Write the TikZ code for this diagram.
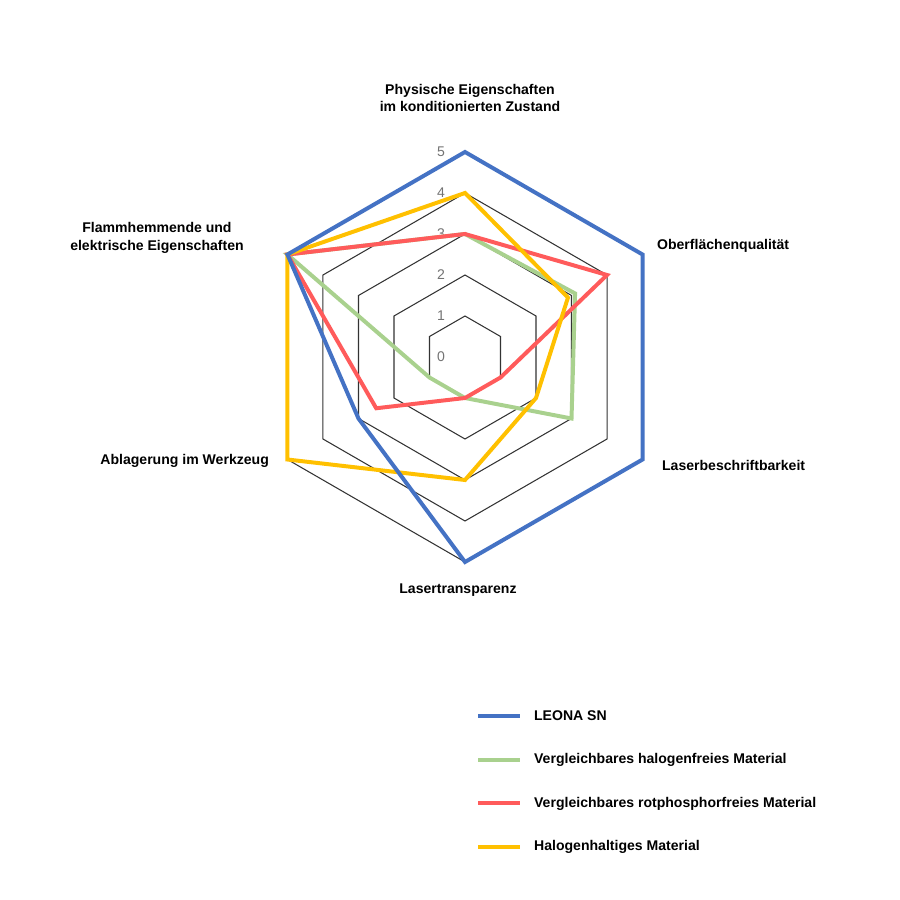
\documentclass[tikz,border=0pt]{standalone}
\usepackage{fontspec}
\setmainfont{Liberation Sans}
\usetikzlibrary{positioning,calc}
\definecolor{cblue}{HTML}{4472C4}
\definecolor{cgreen}{HTML}{A9D18E}
\definecolor{cred}{HTML}{FF5B5B}
\definecolor{cyellow}{HTML}{FFC000}
\tikzset{
	grid/.style = {draw=black!80, line width=0.9pt},
	series/.style = {line width=3.4pt, line join=miter},
	axlabel/.style = {font=\bfseries\fontsize{12}{15}\selectfont, align=center},
	tick/.style = {font=\fontsize{12}{14}\selectfont, text=black!55},
	legtext/.style = {font=\bfseries\fontsize{12}{14}\selectfont, anchor=west}
}
\newcommand{\radar}[7]{% colour, six values
	\draw[series, #1] (90:#2*41) -- (30:#3*41) -- (-30:#4*41) -- (-90:#5*41) -- (210:#6*41) -- (150:#7*41) -- cycle;}
\begin{document}
\begin{tikzpicture}[x=0.03cm, y=0.03cm]
	\useasboundingbox (-465,-543) rectangle (435,357);
	% ========================== Grid ============================
	\foreach \r in {1,...,5}
		\draw[grid] (90:\r*41) -- (30:\r*41) -- (-30:\r*41) -- (-90:\r*41) -- (210:\r*41) -- (150:\r*41) -- cycle;
	\foreach \r in {0,...,5}
		\node[tick] (t\r) at (-24, \r*41) {\r};
	% ========================== Series ============================
	\radar{cgreen}{3}{3.1}{3}{1}{1}{5}
	\radar{cred}{3}{4}{1}{1}{2.5}{5}
	\radar{cyellow}{4}{2.9}{2}{3}{5}{5}
	\radar{cblue}{5}{5}{5}{5}{3}{5}
	% ========================== Labels ============================
	\node[axlabel] (lphys) at (5,259) {Physische Eigenschaften\\im konditionierten Zustand};
	\node[axlabel, anchor=west] (lober) at (188,111) {Oberflächenqualität};
	\node[axlabel, anchor=west] (llaser) at (193,-108) {Laserbeschriftbarkeit};
	\node[axlabel] (ltrans) at (-7,-233) {Lasertransparenz};
	\node[axlabel, anchor=east] (lablag) at (-192,-104) {Ablagerung im Werkzeug};
	\node[axlabel] (lflamm) at (-308,119) {Flammhemmende und\\elektrische Eigenschaften};
	% ========================== Legend ============================
	\foreach \c/\t [count=\i from 0] in {cblue/LEONA SN, cgreen/Vergleichbares halogenfreies Material, cred/Vergleichbares rotphosphorfreies Material, cyellow/Halogenhaltiges Material} {
		\coordinate (la\i) at (13, -359-\i*43.7);
		\coordinate (lb\i) at (55, -359-\i*43.7);
		\draw[series, \c] (la\i) -- (lb\i);
		\node[legtext] (leg\i) at ($(lb\i)+(10,0)$) {\t};
	}
\end{tikzpicture}
\end{document}
